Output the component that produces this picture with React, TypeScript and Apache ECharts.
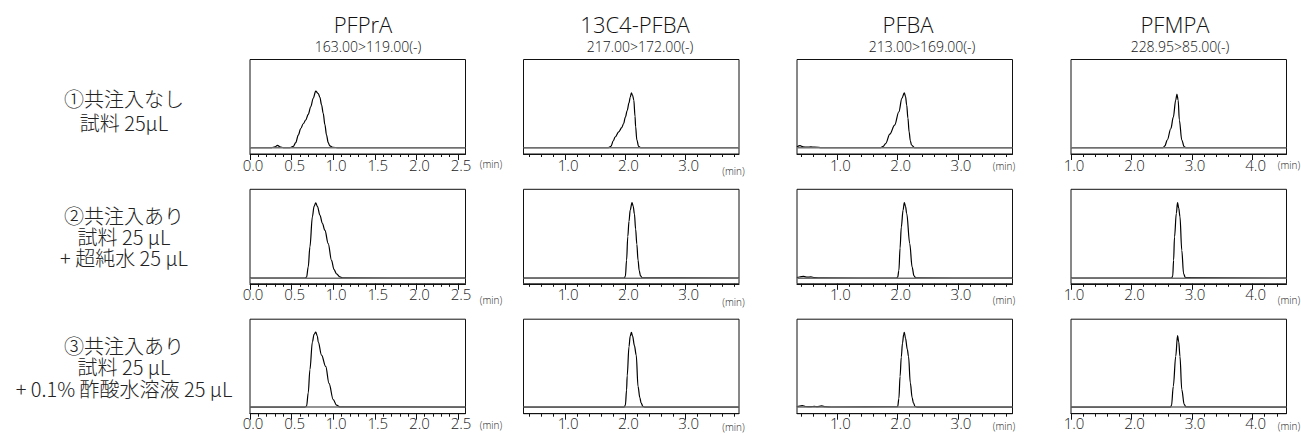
import React, { useEffect, useRef } from "react";
import * as echarts from "echarts";

// ---------- DATA ----------
const compounds = ["PFPrA", "13C4-PFBA", "PFBA", "PFMPA"];
const transitions = ["163.00>119.00(-)", "217.00>172.00(-)", "213.00>169.00(-)", "228.95>85.00(-)"];
const rowLabels = [
  ["①共注入なし", "試料 25μL"],
  ["②共注入あり", "試料 25 μL", "+ 超純水 25 μL"],
  ["③共注入あり", "試料 25 μL", "+ 0.1% 酢酸水溶液 25 μL"],
];
const axisMin = [0, 0.31, 0.33, 1.0];
const axisMax = [2.59, 3.885, 3.905, 4.56];
const majorTicks = [
  [0, 0.5, 1.0, 1.5, 2.0, 2.5],
  [1.0, 2.0, 3.0],
  [1.0, 2.0, 3.0],
  [1.0, 2.0, 3.0, 4.0],
];
const minorStep = [0.1, 0.2, 0.2, 0.2];
const rowBaseline = [6.7, 6.0, 7.0];

// time (min), relative intensity (% of frame height)
const pfpraRow1: [number, number][] = [[0, 6.7], [0.26, 6.7], [0.30, 7.5], [0.33, 9.2], [0.36, 7.6], [0.40, 6.7], [0.48, 6.8], [0.52, 8], [0.55, 12], [0.58, 20], [0.61, 27], [0.64, 32], [0.67, 36], [0.70, 42], [0.73, 50], [0.76, 59], [0.79, 66.5], [0.82, 64], [0.84, 60], [0.86, 52], [0.88, 43], [0.90, 31], [0.92, 20], [0.94, 12], [0.96, 8.5], [1.0, 7], [1.05, 6.7], [2.59, 6.7]];
const pfpraRow2: [number, number][] = [[0, 6], [0.66, 6], [0.68, 7], [0.70, 18], [0.72, 39], [0.75, 71], [0.77, 82], [0.79, 85.7], [0.81, 82], [0.84, 72.7], [0.87, 64], [0.90, 56.7], [0.94, 42.5], [0.98, 24.8], [1.01, 15], [1.04, 10.6], [1.08, 7.3], [1.12, 6.2], [2.59, 6]];
const pfpraRow3: [number, number][] = [[0, 7], [0.66, 7], [0.68, 8], [0.70, 22], [0.72, 46.5], [0.75, 76], [0.77, 84], [0.79, 86.3], [0.81, 82], [0.82, 76], [0.86, 62], [0.91, 50], [0.95, 32], [1.0, 15], [1.04, 9], [1.08, 7.2], [2.59, 7]];
const c13pfbaRow1: [number, number][] = [[0.31, 6.7], [1.72, 6.7], [1.76, 8], [1.80, 14], [1.83, 18], [1.89, 23.5], [1.94, 28], [1.97, 32], [2.00, 39], [2.03, 46], [2.06, 54], [2.08, 60], [2.10, 64.7], [2.12, 62], [2.14, 57], [2.16, 40], [2.17, 29], [2.19, 15], [2.22, 8], [2.25, 6.8], [3.885, 6.7]];
const c13pfbaRow2: [number, number][] = [[0.31, 6], [1.98, 6], [2.0, 8], [2.02, 25], [2.04, 50], [2.06, 66], [2.08, 78], [2.11, 86], [2.13, 82], [2.15, 74], [2.17, 58], [2.19, 42], [2.21, 25], [2.23, 14], [2.25, 8.5], [2.28, 6.3], [3.885, 6]];
const c13pfbaRow3: [number, number][] = [[0.31, 7], [1.98, 7], [2.0, 9], [2.02, 25], [2.03, 40], [2.06, 71], [2.08, 82], [2.10, 86], [2.12, 82], [2.15, 72], [2.18, 62], [2.21, 29], [2.24, 17], [2.26, 11.6], [2.29, 7.8], [2.32, 7], [3.885, 7]];
const pfbaRow1: [number, number][] = [[0.33, 7.5], [0.38, 8.8], [0.43, 7.6], [0.50, 7.2], [0.56, 7.5], [0.62, 7.2], [0.75, 6.8], [1.72, 6.7], [1.76, 8], [1.80, 11], [1.87, 21], [1.95, 30.6], [2.02, 44.7], [2.07, 58.8], [2.11, 64.7], [2.13, 61], [2.15, 51.7], [2.17, 38], [2.19, 23.5], [2.21, 14], [2.23, 9.5], [2.28, 6.8], [3.905, 6.7]];
const pfbaRow2: [number, number][] = [[0.33, 6.5], [0.37, 7.2], [0.44, 7.8], [0.50, 7.0], [0.56, 7.3], [0.62, 6.6], [0.75, 6.2], [1.98, 6], [2.0, 7], [2.02, 14], [2.04, 38], [2.06, 60], [2.09, 78], [2.11, 86], [2.13, 82], [2.15, 74.5], [2.2, 42.5], [2.24, 17.7], [2.27, 8.5], [2.3, 6.2], [3.905, 6]];
const pfbaRow3: [number, number][] = [[0.33, 7.2], [0.37, 8], [0.42, 8.6], [0.47, 7.6], [0.55, 7.4], [0.62, 7.8], [0.66, 7.4], [0.74, 8.2], [0.80, 7.4], [0.9, 7.1], [2.0, 7.5], [2.02, 16], [2.04, 39.6], [2.06, 60], [2.08, 74.7], [2.10, 84], [2.11, 86], [2.13, 80], [2.16, 68], [2.18, 60.6], [2.21, 32.6], [2.24, 17], [2.26, 11.6], [2.29, 7.6], [2.32, 7], [3.905, 7]];
const pfmpaRow1: [number, number][] = [[1.0, 6.7], [2.52, 6.7], [2.55, 8.5], [2.59, 14.8], [2.65, 27], [2.69, 39], [2.73, 57], [2.75, 63.4], [2.77, 57], [2.79, 36], [2.83, 14.8], [2.87, 7.7], [2.9, 6.8], [4.56, 6.7]];
const pfmpaRow2: [number, number][] = [[1.0, 6], [2.66, 6], [2.68, 8], [2.695, 25], [2.71, 49.6], [2.74, 74.5], [2.76, 86], [2.78, 80], [2.80, 71], [2.83, 35.5], [2.86, 10.6], [2.89, 6.5], [4.56, 6]];
const pfmpaRow3: [number, number][] = [[1.0, 7], [2.64, 7], [2.66, 8.5], [2.69, 29], [2.73, 60.6], [2.76, 82.7], [2.78, 76], [2.80, 60.6], [2.83, 25.6], [2.87, 9.8], [2.9, 7.2], [4.56, 7]];

const traces = [
  [pfpraRow1, c13pfbaRow1, pfbaRow1, pfmpaRow1],
  [pfpraRow2, c13pfbaRow2, pfbaRow2, pfmpaRow2],
  [pfpraRow3, c13pfbaRow3, pfbaRow3, pfmpaRow3],
];

// ---------- LAYOUT ----------
const colLeft = [250, 523.5, 797, 1071];
const rowTop = [59.5, 189.3, 319.2];
const boxW = 215.5;
const boxH = 94.5;
const titleX = [363, 635, 908, 1175];
const subX = [368, 640, 922, 1180];
const minX = [241, 210, 207, 218];
const minDy = [
  [9.5, 17, 12, 11],
  [15.7, 17.7, 15.7, 15.7],
  [11.5, 13, 12.5, 12.5],
];
const labelMargin = [3, 3, 2];
const rowLineY = [
  [98, 122],
  [215, 236, 257],
  [345.7, 366.7, 388],
];

const FONT = "'Open Sans', 'Noto Sans', 'DejaVu Sans', sans-serif";
const CJK = "'Noto Sans CJK JP', 'Noto Sans', sans-serif";

function minorList(c: number): number[] {
  const out: number[] = [];
  const step = minorStep[c];
  const start = Math.ceil(axisMin[c] / step - 1e-9) * step;
  for (let v = start; v <= axisMax[c] + 1e-9; v += step) out.push(Math.round(v * 100) / 100);
  return out;
}

function txt(x: number, y: number, text: string, font: string, fill = "#222") {
  return {
    type: "text", x, y,
    style: {
      text, font, fill,
      align: "center", verticalAlign: "middle", textAlign: "center", textVerticalAlign: "middle",
    },
  };
}

export default function App() {
  const ref = useRef<HTMLDivElement>(null);
  useEffect(() => {
    if (!ref.current) return;
    const chart = echarts.init(ref.current, undefined, { renderer: "svg" });
    const grid: any[] = [];
    const xAxis: any[] = [];
    const yAxis: any[] = [];
    const series: any[] = [];
    const graphic: any[] = [];
    for (let r = 0; r < 3; r++) {
      for (let c = 0; c < 4; c++) {
        const g = r * 4 + c;
        grid.push({
          left: colLeft[c], top: rowTop[r], width: boxW, height: boxH,
          show: true, borderColor: "#111", borderWidth: 1, backgroundColor: "transparent",
        });
        xAxis.push({
          type: "value", gridIndex: g, min: axisMin[c], max: axisMax[c], position: "bottom",
          axisLine: { show: true, onZero: false, lineStyle: { color: "#111", width: 1 } },
          axisTick: { show: true, customValues: majorTicks[c], length: 6, lineStyle: { color: "#111" } },
          axisLabel: {
            show: true, customValues: majorTicks[c], margin: labelMargin[r],
            formatter: (v: number) => v.toFixed(1),
            fontFamily: FONT, fontSize: 15, fontWeight: 300, color: "#222",
            padding: [0, 0, 0, 6],
          },
          splitLine: { show: false },
        });
        xAxis.push({
          type: "value", gridIndex: g, min: axisMin[c], max: axisMax[c], position: "bottom",
          axisLine: { show: false, onZero: false },
          axisTick: { show: true, customValues: minorList(c), length: 3, lineStyle: { color: "#111" } },
          axisLabel: { show: false },
          splitLine: { show: false },
        });
        yAxis.push({
          type: "value", gridIndex: g, min: 0, max: 100, show: false,
          splitLine: { show: false },
        });
        series.push({
          type: "line", xAxisIndex: 2 * g, yAxisIndex: g, data: traces[r][c],
          showSymbol: false, smooth: 0.35, smoothMonotone: "x",
          lineStyle: { color: "#000", width: 1.2 }, z: 2, silent: true,
        });
        series.push({
          type: "line", xAxisIndex: 2 * g, yAxisIndex: g,
          data: [[axisMin[c], rowBaseline[r]], [axisMax[c], rowBaseline[r]]],
          showSymbol: false, lineStyle: { color: "#6f6f6f", width: 1.5 }, z: 3, silent: true,
        });
        graphic.push(txt(colLeft[c] + minX[c], rowTop[r] + boxH + minDy[r][c], "(min)", `300 10px ${FONT}`));
      }
    }
    for (let c = 0; c < 4; c++) {
      graphic.push(txt(titleX[c], 24, compounds[c], `300 22px ${FONT}`, "#111"));
      graphic.push(txt(subX[c], 46.5, transitions[c], `300 14px ${FONT}`, "#111"));
    }
    for (let r = 0; r < 3; r++) {
      rowLabels[r].forEach((line, i) => {
        graphic.push(txt(124, rowLineY[r][i], line, `300 20px ${CJK}`));
      });
    }
    chart.setOption({
      animation: false,
      backgroundColor: "#fff",
      grid, xAxis, yAxis, series, graphic,
    });
    return () => chart.dispose();
  }, []);
  return (
    <div
      ref={ref}
      style={{ position: "fixed", left: 0, top: 0, width: 1301, height: 434 }}
    />
  );
}
